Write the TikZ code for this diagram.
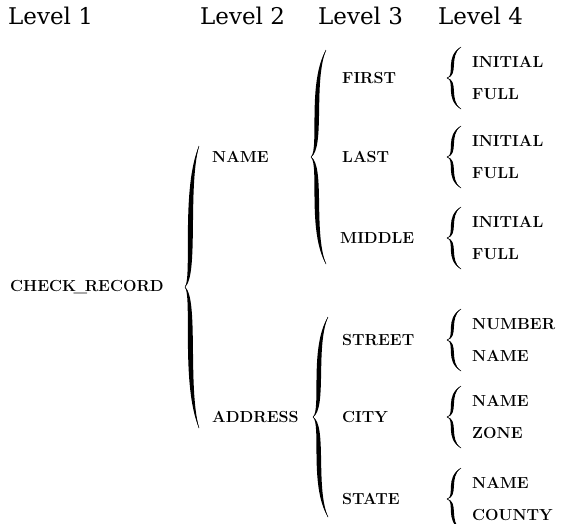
\documentclass[tikz,border=0pt]{standalone}
\usepackage{fontspec}
\newfontfamily\hdrfont{DejaVu Serif}
\usetikzlibrary{calc}
\begin{document}
\begin{tikzpicture}[x=1pt,y=-1pt,
  hdr/.style={anchor=west,inner sep=0pt,font=\hdrfont\fontsize{23}{28}\selectfont},
  lbl/.style={anchor=west,inner sep=0pt,font=\fontsize{16}{19}\selectfont\bfseries},
  pics/cbrace/.style args={#1/#2/#3}{code={
    \fill[black] (0,0)
      .. controls ({0.75*#2-#3},{-0.08*#1}) and ({-0.05*#2-#3},{-0.7*#1}) .. (#2,-#1)
      .. controls ({-0.05*#2+#3},{-0.7*#1}) and ({0.75*#2+#3},{-0.08*#1}) .. (0,0)
      .. controls ({0.75*#2+#3},{0.08*#1}) and ({-0.05*#2+#3},{0.7*#1}) .. (#2,#1)
      .. controls ({-0.05*#2-#3},{0.7*#1}) and ({0.75*#2-#3},{0.08*#1}) .. (0,0) -- cycle;
    \draw[black,line width=0.5pt] (0,0)
      .. controls ({0.75*#2},{-0.08*#1}) and ({-0.05*#2},{-0.7*#1}) .. (#2,-#1);
    \draw[black,line width=0.5pt] (0,0)
      .. controls ({0.75*#2},{0.08*#1}) and ({-0.05*#2},{0.7*#1}) .. (#2,#1);
  }}]
\useasboundingbox (0,0) rectangle (562,523);
% headers
\node[hdr] (h1) at (8,16) {Level 1};
\node[hdr] (h2) at (200,16) {Level 2};
\node[hdr] (h3) at (318,16) {Level 3};
\node[hdr] (h4) at (438,16) {Level 4};
% level 1
\node[lbl] (rec) at (10,287) {CHECK\kern-2.5pt\_\kern-2.5pt RECORD};
% level 2
\node[lbl] (name) at (212,157) {NAME};
\node[lbl] (addr) at (212,417) {ADDRESS};
% level 3
\node[lbl] (first) at (342,78) {FIRST};
\node[lbl] (last) at (342,157) {LAST};
\node[lbl] (middle) at (340,238) {MIDDLE};
\node[lbl] (street) at (342,340) {STREET};
\node[lbl] (city) at (342,417) {CITY};
\node[lbl] (state) at (342,499) {STATE};
% level 4
\node[lbl] (f1) at (472,62) {INITIAL};
\node[lbl] (f2) at (472,94) {FULL};
\node[lbl] (l1) at (472,141) {INITIAL};
\node[lbl] (l2) at (472,173) {FULL};
\node[lbl] (m1) at (472,222) {INITIAL};
\node[lbl] (m2) at (472,254) {FULL};
\node[lbl] (s1) at (472,324) {NUMBER};
\node[lbl] (s2) at (472,356) {NAME};
\node[lbl] (c1) at (472,401) {NAME};
\node[lbl] (c2) at (472,433) {ZONE};
\node[lbl] (t1) at (472,483) {NAME};
\node[lbl] (t2) at (472,515) {COUNTY};
% braces
\pic at (185,0 |- rec.west) {cbrace=141/14/3.3};
\pic at (311,0 |- name.west) {cbrace=107/15/3.0};
\pic at (313,0 |- addr.west) {cbrace=100/15/3.0};
\pic at (447,0 |- first.west) {cbrace=31/14/2.0};
\pic at (447,0 |- last.west) {cbrace=31/14/2.0};
\pic at (447,0 |- middle.west) {cbrace=31/14/2.0};
\pic at (447,0 |- street.west) {cbrace=31/14/2.0};
\pic at (447,0 |- city.west) {cbrace=31/14/2.0};
\pic at (447,0 |- state.west) {cbrace=31/14/2.0};
\end{tikzpicture}
\end{document}
